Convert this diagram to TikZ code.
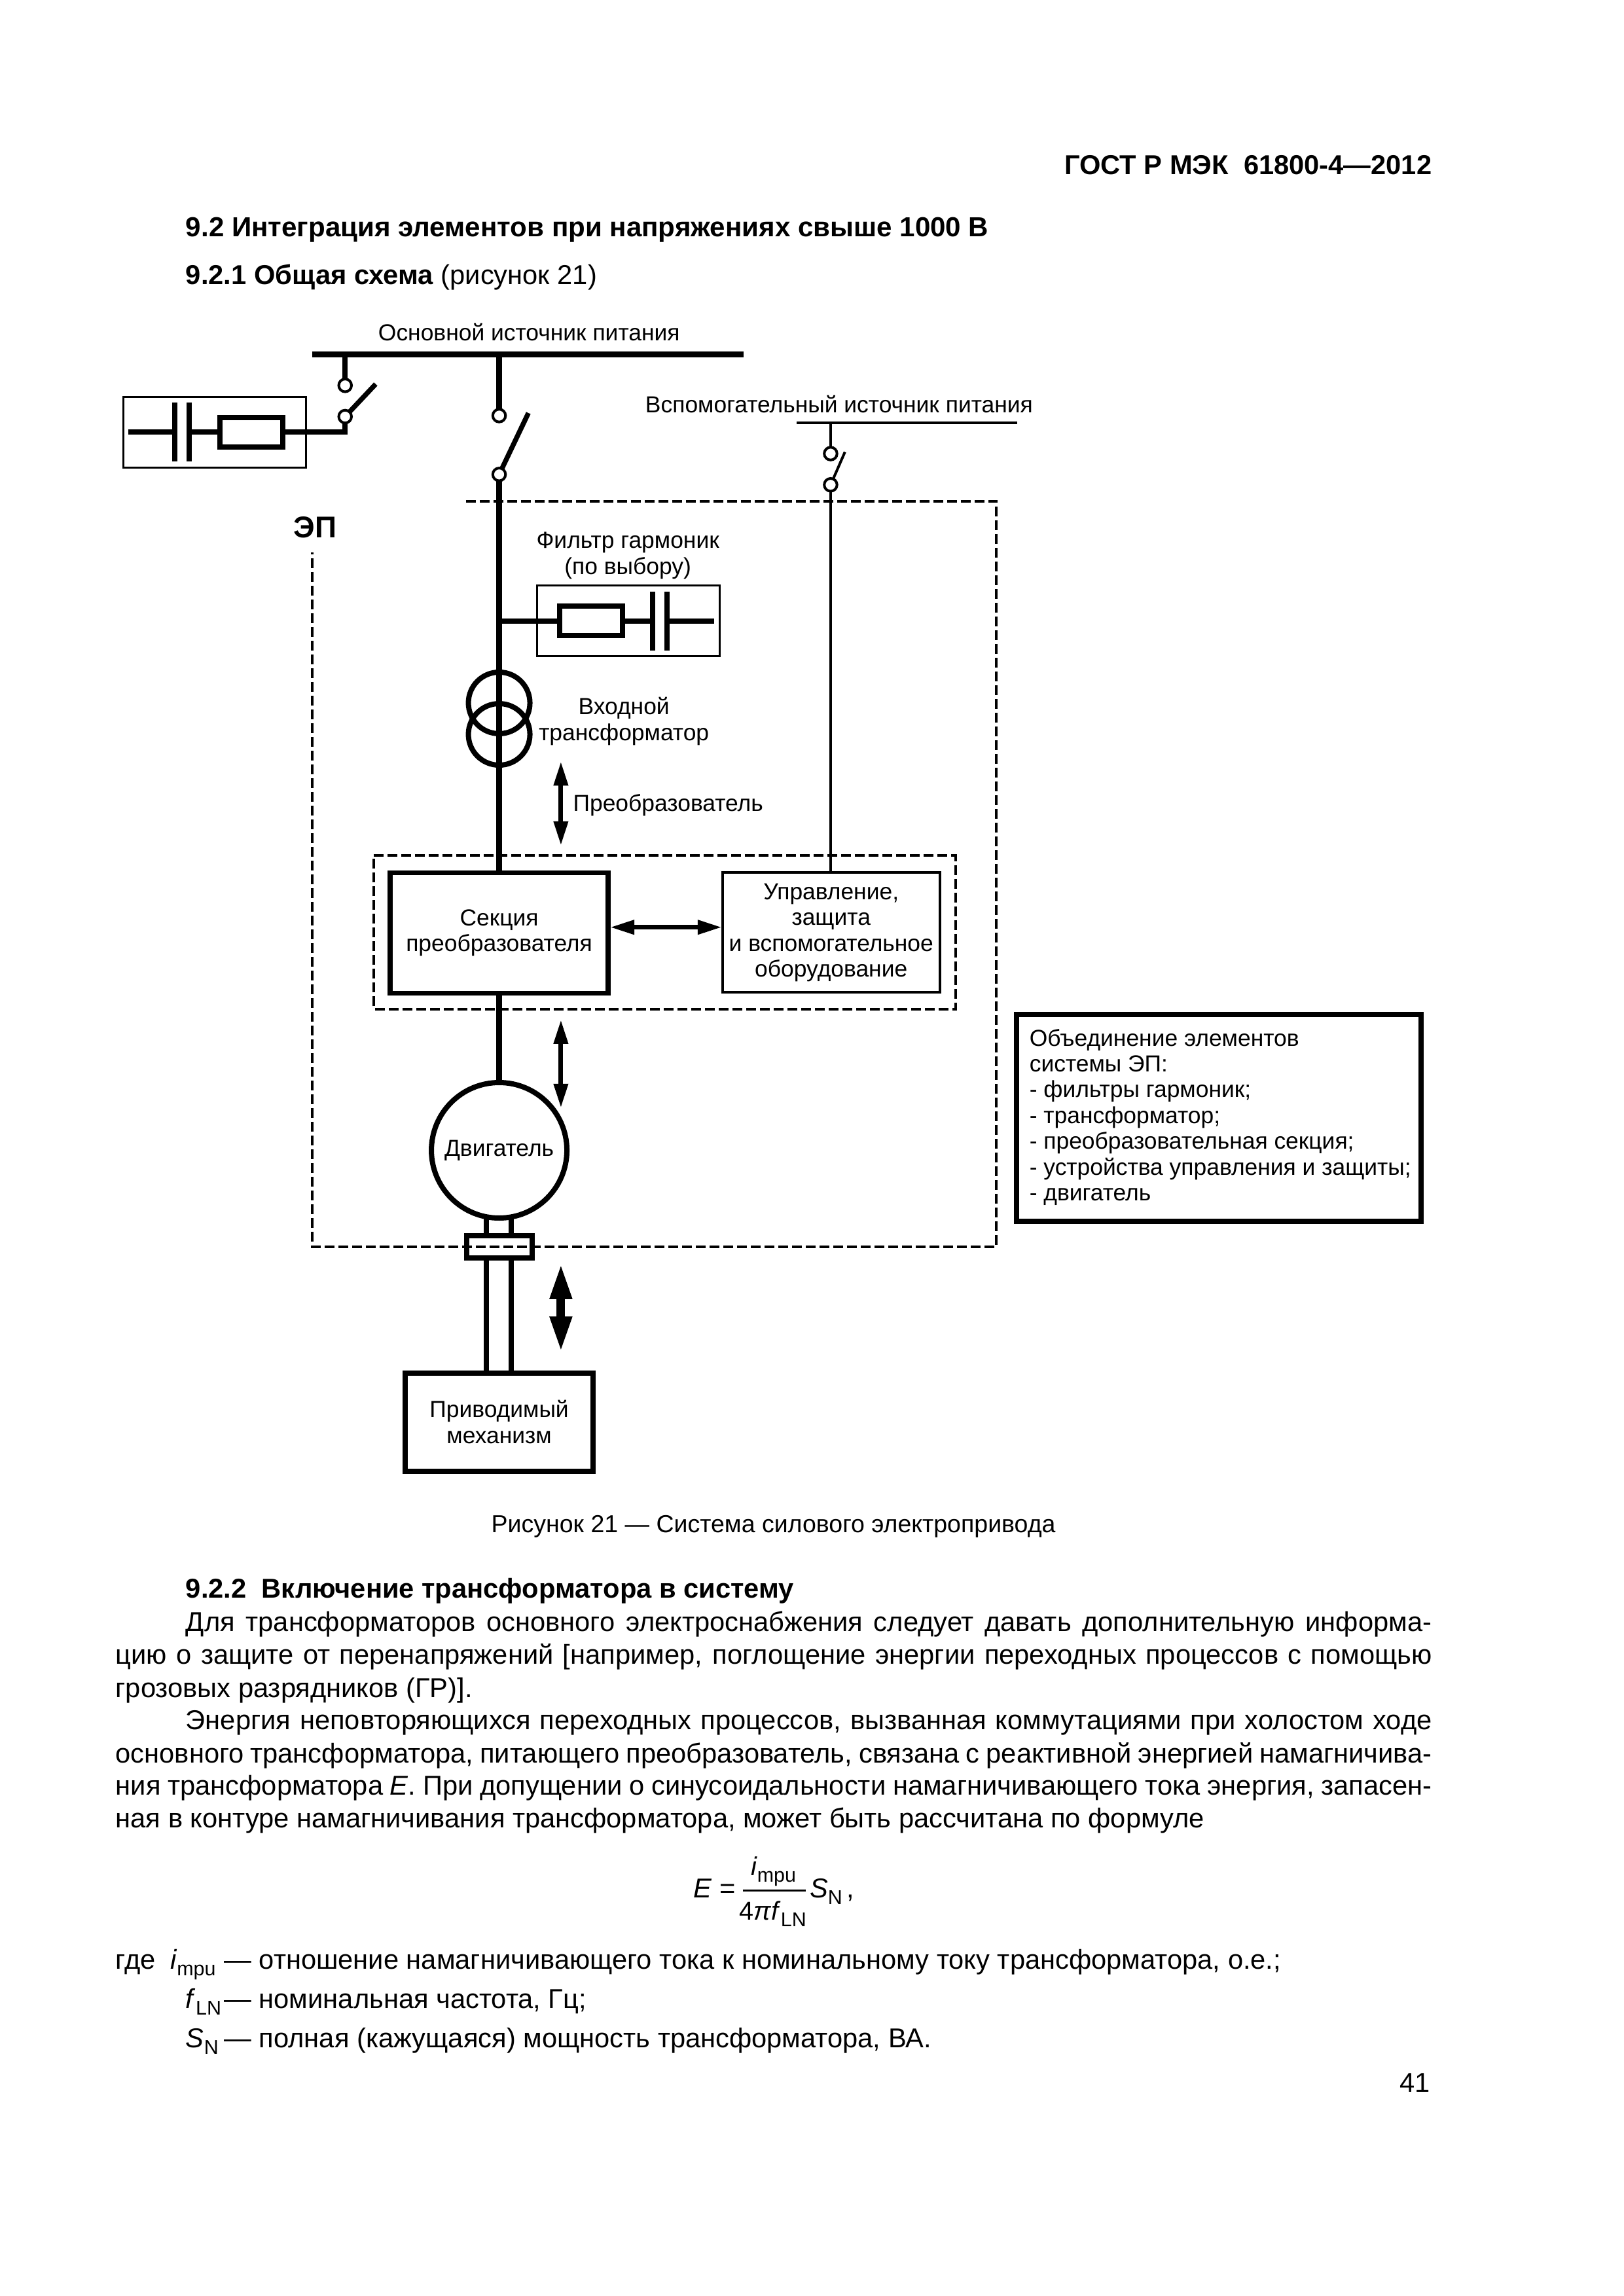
\documentclass[tikz,border=0pt]{standalone}
\usepackage{fontspec}
\setmainfont{Liberation Sans}
\usetikzlibrary{arrows.meta}
\newcommand{\lowsub}[1]{\raisebox{-2.4pt}{\fontsize{7.3}{9}\selectfont #1}}
\def\px{0.24pt}
\tikzset{
  x=0.2383pt,y=-0.2383pt,
  every node/.style={inner sep=0pt,outer sep=0pt},
  lab/.style={font=\fontsize{8.5}{9.45}\selectfont,align=center},
  bodyl/.style={font=\fontsize{10}{12}\selectfont,anchor=base west},
  contact/.style={circle,draw,fill=white,line width=4*\px,minimum size=19.5*\px},
  plate/.style={fill=black,minimum width=8*\px,minimum height=90*\px},
  resist/.style={draw,fill=white,line width=8*\px,minimum width=96*\px,minimum height=45*\px},
  thinbox/.style={draw,line width=3.3*\px,minimum width=279*\px,minimum height=108*\px},
  wire/.style={line width=8*\px},
  mainwire/.style={line width=8.5*\px},
  blade/.style={line width=7.5*\px},
  thinwire/.style={line width=4*\px},
  framedash/.style={line width=4*\px,dash pattern=on 15*\px off 6*\px},
  tarrow/.style={line width=7*\px,{Triangle[length=37*\px,width=21*\px]}-{Triangle[length=37*\px,width=21*\px]}},
  barrow/.style={line width=13*\px,{Triangle[length=55*\px,width=31*\px]}-{Triangle[length=55*\px,width=31*\px]}},
}
\begin{document}
\begin{tikzpicture}
\fill[white] (0,0) rectangle (2497.7,3533);
\useasboundingbox (0,0) rectangle (2497.7,3533);
% page heads
\node[font=\fontsize{10}{12}\selectfont\bfseries,anchor=base east] (head) at (2203,268) {ГОСТ Р МЭК\ \ 61800-4—2012};
\node[bodyl,font=\fontsize{10.1}{12}\selectfont\bfseries] (h92) at (286,364) {9.2 Интеграция элементов при напряжениях свыше 1000 В};
\node[bodyl] (h921) at (286,438) {\textbf{9.2.1 Общая схема} (рисунок 21)};
% labels
\node[lab] (lmain) at (814,511) {Основной источник питания};
\node[lab] (laux) at (1291,622) {Вспомогательный источник питания};
\node[font=\fontsize{11}{12}\selectfont\bfseries] (lep) at (485,811) {ЭП};
\node[lab] (lfilt) at (966,855) {Фильтр гармоник\\(по выбору)};
\node[lab] (ltr) at (960,1110) {Входной\\трансформатор};
\node[lab] (lconv) at (1028,1239) {Преобразователь};
% sources
\coordinate (busL) at (480,545); \coordinate (busR) at (1144,545);
\coordinate (busA) at (531,545); \coordinate (busB) at (768,545);
\draw[line width=9*\px] (busL) -- (busR);
\coordinate (auxL) at (1226,651); \coordinate (auxR) at (1565,651); \coordinate (auxT) at (1278,651);
\draw[thinwire] (auxL) -- (auxR);
% left filter
\node[thinbox] (lbox) at (330,665) {};
\coordinate (lstart) at (197,665); \coordinate (lcorner) at (531,665);
\node[plate] (lp1) at (269,665) {};
\node[plate] (lp2) at (291,665) {};
\node[resist] (lres) at (387,665) {};
\draw[wire] (lstart) -- (lp1);
\draw[wire] (lp2) -- (lres);
% left switch
\node[contact] (c1a) at (531,593) {};
\node[contact] (c1b) at (531,641) {};
\coordinate (t1) at (578,591);
\draw[wire,line cap=rect] (lres) -- (lcorner);
\draw[wire] (lcorner) -- (c1b);
\draw[mainwire] (busA) -- (c1a);
\draw[blade] (c1b) -- (t1);
% main switch
\node[contact] (c2a) at (768,639.5) {};
\node[contact] (c2b) at (768,730) {};
\coordinate (t2) at (813,635.5);
\draw[mainwire] (busB) -- (c2a);
\draw[blade] (c2b) -- (t2);
% aux switch
\node[contact] (c3a) at (1278,698) {};
\node[contact] (c3b) at (1278,746) {};
\coordinate (t3) at (1300,695.5);
\draw[thinwire] (auxT) -- (c3a);
\draw[thinwire] (c3b) -- (t3);
% harmonic filter
\node[thinbox] (fbox) at (966.5,955.5) {};
\node[resist] (fres) at (909.5,955.5) {};
\node[plate] (fp1) at (1004.3,955.5) {};
\node[plate] (fp2) at (1026.6,955.5) {};
\coordinate (fstart) at (768,955.5); \coordinate (fend) at (1099,955.5);
\draw[wire] (fstart) -- (fres);
\draw[wire] (fres) -- (fp1);
\draw[wire] (fp2) -- (fend);
% transformer
\node[circle,draw,line width=8*\px,minimum size=94*\px] (tr1) at (768,1081.6) {};
\node[circle,draw,line width=8*\px,minimum size=94*\px] (tr2) at (768,1130) {};
% converter and control
\node[draw,line width=7.7*\px,lab,minimum width=333*\px,minimum height=184*\px] (conv) at (768,1435.7) {Секция\\преобразователя};
\node[draw,line width=4*\px,lab,minimum width=332*\px,minimum height=183*\px] (ctrl) at (1278.8,1435) {Управление,\\защита\\и вспомогательное\\оборудование};
\draw[mainwire] (c2b) -- (conv.north -| c2b);
\draw[thinwire] (c3b) -- (ctrl.north -| c3b);
\draw[tarrow,shorten <=3*\px,shorten >=1*\px] (conv.east |- 0,1426.8) -- (ctrl.west |- 0,1426.8);
% motor
\node[circle,draw,line width=8*\px,lab,minimum size=207*\px] (mot) at (768,1770) {Двигатель};
\draw[mainwire] (conv.south) -- (mot.north);
% coupling and mechanism
\node[draw,fill=white,line width=8*\px,minimum width=100*\px,minimum height=34*\px] (coup) at (768,1919) {};
\node[draw,line width=8*\px,lab,minimum width=287*\px,minimum height=150*\px] (mech) at (768,2188) {Приводимый\\механизм};
\coordinate (s1a) at (748.6,1875); \coordinate (s2a) at (786.6,1875);
\draw[wire] (s1a) -- (s1a |- coup.north);
\draw[wire] (s2a) -- (s2a |- coup.north);
\draw[wire] (s1a |- coup.south) -- (s1a |- mech.north);
\draw[wire] (s2a |- coup.south) -- (s2a |- mech.north);
% dashed frames
\coordinate (o1) at (717,771); \coordinate (o2) at (1533,771); \coordinate (o3) at (1533,1918.6); \coordinate (o4) at (480.4,1918.6); \coordinate (o5) at (480.4,850);
\draw[framedash] (o1) -- (o2) -- (o3) -- (o4) -- (o5);
\coordinate (i1) at (575,1316.7); \coordinate (i2) at (1470,1316.7); \coordinate (i3) at (1470,1552.7); \coordinate (i4) at (575,1552.7);
\draw[framedash] (i1) -- (i2) -- (i3) -- (i4) -- cycle;
% function arrows
\coordinate (a1t) at (863,1171.6); \coordinate (a1b) at (863,1301);
\draw[tarrow] (a1t) -- (a1b);
\coordinate (a2t) at (863,1569); \coordinate (a2b) at (863,1704.8);
\draw[tarrow] (a2t) -- (a2b);
\coordinate (a3t) at (863,1943.7); \coordinate (a3b) at (863,2081);
\draw[barrow] (a3t) -- (a3b);
% legend
\node[draw,line width=8*\px,minimum width=618*\px,minimum height=316*\px] (leg) at (1875.3,1720) {};
\node[lab,align=left,anchor=west] (legt) at (1584,1719) {Объединение элементов\\системы ЭП:\\- фильтры гармоник;\\- трансформатор;\\- преобразовательная секция;\\- устройства управления и защиты;\\- двигатель};
% caption
\node[font=\fontsize{9}{11}\selectfont] (cap) at (1190,2349) {Рисунок 21 — Система силового электропривода};
% body text
\node[bodyl] (h922) at (286,2459) {\textbf{9.2.2\ \ Включение трансформатора в систему}};
\node[bodyl] (b1) at (286,2510.5) {\makebox[456.8pt][s]{Для трансформаторов основного электроснабжения следует давать дополнительную информа-}};
\node[bodyl] (b2) at (178,2560.5) {\makebox[482.6pt][s]{цию о защите от перенапряжений [например, поглощение энергии переходных процессов с помощью}};
\node[bodyl] (b3) at (178,2611.5) {грозовых разрядников (ГР)].};
\node[bodyl] (b4) at (286,2661.5) {\makebox[456.8pt][s]{Энергия неповторяющихся переходных процессов, вызванная коммутациями при холостом ходе}};
\node[bodyl] (b5) at (178,2712.5) {\makebox[482.6pt][s]{основного трансформатора, питающего преобразователь, связана с реактивной энергией намагничива-}};
\node[bodyl] (b6) at (178,2762.5) {\makebox[482.6pt][s]{ния трансформатора \textit{E}. При допущении о синусоидальности намагничивающего тока энергия, запасен-}};
\node[bodyl] (b7) at (178,2812.5) {ная в контуре намагничивания трансформатора, может быть рассчитана по формуле};
% formula
\node[bodyl] (fE) at (1067,2920) {\textit{E} =};
\node[bodyl,anchor=base,font=\fontsize{9.5}{10}\selectfont] (fnum) at (1190,2886) {\textit{i}\lowsub{mpu}};
\node[bodyl,anchor=base,font=\fontsize{9.5}{10}\selectfont] (fden) at (1189,2954) {4\textit{π}\textit{f}\lowsub{LN}};
\coordinate (frL) at (1143,2909); \coordinate (frR) at (1240,2909);
\draw[line width=3*\px] (frL) -- (frR);
\node[bodyl] (fS) at (1246,2920) {\textit{S}\lowsub{N}\kern1.5pt,};
% symbols
\node[bodyl] (w1) at (178,3030) {где};
\node[bodyl] (s1) at (262,3030) {\textit{i}\lowsub{mpu}};
\node[bodyl] (d1) at (345,3030) {— отношение намагничивающего тока к номинальному току трансформатора, о.е.;};
\node[bodyl] (s2) at (286,3090) {\textit{f}\lowsub{LN}};
\node[bodyl] (d2) at (345,3090) {— номинальная частота, Гц;};
\node[bodyl] (s3) at (286,3151) {\textit{S}\lowsub{N}};
\node[bodyl] (d3) at (345,3151) {— полная (кажущаяся) мощность трансформатора, ВА.};
\node[bodyl,anchor=base east] (pg) at (2200,3219) {41};
\end{tikzpicture}
\end{document}
